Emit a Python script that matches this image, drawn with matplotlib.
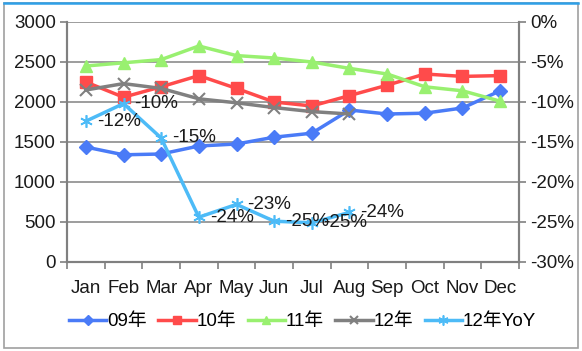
import numpy as np
import matplotlib.pyplot as plt
from matplotlib.patches import Rectangle
from matplotlib.lines import Line2D

plt.rcParams['font.family'] = ['Liberation Sans', 'Noto Sans CJK SC']

months = ['Jan', 'Feb', 'Mar', 'Apr', 'May', 'Jun', 'Jul', 'Aug', 'Sep', 'Oct', 'Nov', 'Dec']
y09 = [1437, 1340, 1350, 1450, 1475, 1560, 1610, 1900, 1850, 1860, 1925, 2140]
y10 = [2250, 2060, 2190, 2330, 2170, 2000, 1950, 2080, 2210, 2350, 2320, 2330]
y11 = [2450, 2490, 2530, 2700, 2580, 2550, 2500, 2420, 2350, 2190, 2140, 2010]
y12 = [2150, 2230, 2170, 2040, 1990, 1930, 1880, 1850]
yoy12 = [-12.4, -10.2, -14.5, -24.4, -22.8, -24.9, -25.1, -23.8]
yoy_labels = ['-12%', '-10%', '-15%', '-24%', '-23%', '-25%', '-25%', '-24%']

fs = 13.5

fig = plt.figure(figsize=(5.82, 3.51), dpi=100)

# outer frame with blue top line
fig.patches.append(Rectangle((4/582, 3/351), 574/582, 345/351, transform=fig.transFigure,
                             fill=False, edgecolor='#a0a0a0', lw=1.2))
fig.lines.append(Line2D([4/582, 578/582], [348/351, 348/351], transform=fig.transFigure,
                        color='#2ea0e8', lw=1.8))

ax = fig.add_axes([67/582, 89/351, 452/582, 240/351])
ax2 = ax.twinx()

x = np.arange(len(months))
ax.plot(x, y09, color='#4a7bf7', lw=2.5, marker='D', ms=7, label='09年', zorder=3)
ax.plot(x, y10, color='#ff4b4b', lw=2.5, marker='s', ms=8, label='10年', zorder=3)
ax.plot(x, y11, color='#99f070', lw=2.5, marker='^', ms=8, label='11年', zorder=3)
ax.plot(x[:len(y12)], y12, color='#808080', lw=2.5, marker='x', ms=8, mew=1.5,
        label='12年', zorder=3)
ax2.plot(x[:len(yoy12)], yoy12, color='#4dbbf7', lw=2.5, marker=(6, 2, 0), ms=9, mew=1.2,
         label='12年YoY', zorder=3)

for xi, yi, t in zip(x, yoy12, yoy_labels):
    ax2.annotate(t, (xi, yi), xytext=(8, 0), textcoords='offset points',
                 ha='left', va='center', fontsize=fs, color='#1a1a1a')

ax.set_xlim(-0.5, 11.5)
ax.set_ylim(0, 3000)
ax.set_yticks(np.arange(0, 3001, 500))
ax2.set_ylim(-30, 0)
ax2.set_yticks(np.arange(-30, 1, 5))
ax2.set_yticklabels([f'{v}%' for v in range(-30, 1, 5)])

ax.set_xticks(x)
ax.set_xticklabels(months)
ax.set_xticks(np.arange(-0.5, 12, 1), minor=True)
ax.tick_params(axis='x', which='major', length=0, pad=13, labelsize=fs, colors='#1a1a1a')
ax.tick_params(axis='x', which='minor', length=5, width=1.2, color='#808080')
ax.tick_params(axis='y', length=5, width=1.2, color='#808080', labelsize=fs,
               labelcolor='#1a1a1a', pad=3)
ax2.tick_params(axis='y', length=5, width=1.2, color='#808080', labelsize=fs,
                labelcolor='#1a1a1a', pad=3)

ax.grid(axis='y', color='#8c8c8c', lw=1.2)
ax.set_axisbelow(True)
for a in (ax, ax2):
    a.spines['top'].set_visible(False)
    for s in ('left', 'right', 'bottom'):
        a.spines[s].set_color('#808080')
        a.spines[s].set_linewidth(1.5)

h1, l1 = ax.get_legend_handles_labels()
h2, l2 = ax2.get_legend_handles_labels()
fig.legend(h1 + h2, l1 + l2, loc='center', bbox_to_anchor=(0.52, 0.083), ncol=5,
           frameon=False, fontsize=fs, handlelength=2.0, handletextpad=0.05,
           columnspacing=0.6, markerscale=0.8)

fig.savefig('out.png', dpi=100)
